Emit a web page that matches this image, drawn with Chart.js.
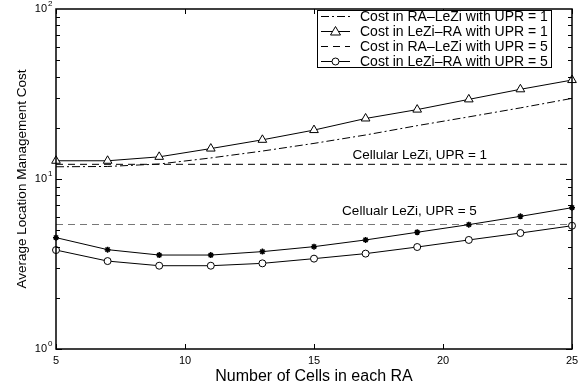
<!DOCTYPE html>
<html>
<head>
<meta charset="utf-8">
<script src="https://cdn.jsdelivr.net/npm/chart.js@4.4.1/dist/chart.umd.min.js"></script>
<style>
  html, body { margin: 0; padding: 0; background: #fff; }
  canvas { display: block; }
</style>
</head>
<body>
<canvas id="costChart" width="581" height="385"></canvas>
<script>
const cells = [5, 7, 9, 11, 13, 15, 17, 19, 21, 23, 25];
const raLeziUpr1 = [11.8, 11.85, 12.25, 13.3, 14.6, 16.2, 18.15, 20.6, 23.2, 26.2, 29.8];
const leziRaUpr1 = [12.8, 12.8, 13.5, 15.1, 17.0, 19.4, 22.7, 25.6, 29.4, 33.7, 38.2];
const raLeziUpr5 = [4.52, 3.84, 3.57, 3.57, 3.74, 4.0, 4.38, 4.86, 5.39, 6.03, 6.78];
const leziRaUpr5 = [3.82, 3.29, 3.09, 3.09, 3.19, 3.40, 3.64, 3.98, 4.38, 4.81, 5.31];
const cellularLezi = [12.2, 5.4]; // UPR = 1, UPR = 5
const cellularLabels = ["Cellular LeZi, UPR = 1", "Cellualr LeZi, UPR = 5"];
const xTicks = [5, 10, 15, 20, 25];
const yDecades = [0, 1, 2];
const legendLabels = [
  "Cost in RA\u2013LeZi with UPR = 1",
  "Cost in LeZi\u2013RA with UPR = 1",
  "Cost in RA\u2013LeZi with UPR = 5",
  "Cost in LeZi\u2013RA with UPR = 5"
];

const FONT = '"Liberation Sans", Arial, Helvetica, sans-serif';
const DASH = [7, 5];
const DASH_DOT = [8, 3, 2, 3];

const pts = (ys) => cells.map((c, i) => ({ x: c, y: ys[i] }));
const flat = (v) => [{ x: cells[0], y: v }, { x: cells[cells.length - 1], y: v }];

function series(data, extra) {
  return Object.assign({
    data,
    borderColor: "#000",
    borderWidth: 1,
    pointRadius: 0,
    pointBackgroundColor: "#fff",
    pointBorderColor: "#000",
    pointBorderWidth: 1,
    tension: 0,
    clip: false
  }, extra);
}

// legend samples: dash pattern + marker
const legendStyles = [
  { dash: DASH_DOT, marker: null },
  { dash: [], marker: "triangle" },
  { dash: DASH, marker: null },
  { dash: [], marker: "circle" }
];

function drawMarker(ctx, kind, x, y) {
  ctx.save();
  ctx.setLineDash([]);
  ctx.fillStyle = "#fff";
  ctx.strokeStyle = "#000";
  ctx.lineWidth = 1;
  ctx.beginPath();
  if (kind === "triangle") {
    ctx.moveTo(x, y - 5);
    ctx.lineTo(x + 5, y + 3.5);
    ctx.lineTo(x - 5, y + 3.5);
    ctx.closePath();
  } else {
    ctx.arc(x, y, 3.5, 0, Math.PI * 2);
  }
  ctx.fill();
  ctx.stroke();
  ctx.restore();
}

const frame = {
  id: "frame",
  afterDraw(chart) {
    const { ctx, chartArea: a, scales: { x, y } } = chart;
    ctx.save();
    ctx.strokeStyle = "#000";
    ctx.fillStyle = "#000";

    // tick marks pointing inward, on all four sides
    ctx.lineWidth = 1;
    ctx.beginPath();
    for (let d = 0; d < 2; d++) {
      for (let m = 1; m <= 9; m++) {
        const py = Math.round(y.getPixelForValue(m * Math.pow(10, d))) + 0.5;
        const len = m === 1 ? 6 : 4;
        ctx.moveTo(a.left, py); ctx.lineTo(a.left + len, py);
        ctx.moveTo(a.right, py); ctx.lineTo(a.right - len, py);
      }
    }
    xTicks.forEach(v => {
      const px = Math.round(x.getPixelForValue(v)) + 0.5;
      ctx.moveTo(px, a.bottom); ctx.lineTo(px, a.bottom - 5);
      ctx.moveTo(px, a.top); ctx.lineTo(px, a.top + 5);
    });
    ctx.stroke();

    // axes box
    ctx.lineWidth = 1.5;
    ctx.strokeRect(a.left, a.top, a.right - a.left, a.bottom - a.top);

    // y tick labels 10^n
    ctx.textBaseline = "middle";
    yDecades.forEach(n => {
      const py = y.getPixelForValue(Math.pow(10, n));
      ctx.font = "11px " + FONT;
      ctx.textAlign = "right";
      ctx.fillText("10", a.left - 9, py);
      ctx.font = "8px " + FONT;
      ctx.textAlign = "left";
      ctx.fillText(String(n), a.left - 8, py - 5);
    });

    // x tick labels
    ctx.font = "11px " + FONT;
    ctx.textAlign = "center";
    xTicks.forEach(v => ctx.fillText(String(v), x.getPixelForValue(v), a.bottom + 12));

    // axis titles
    ctx.font = "16px " + FONT;
    ctx.fillText("Number of Cells in each RA", (a.left + a.right) / 2, a.bottom + 28);
    ctx.save();
    ctx.translate(22, (a.top + a.bottom) / 2);
    ctx.rotate(-Math.PI / 2);
    ctx.font = "13.5px " + FONT;
    ctx.fillText("Average Location Management Cost", 0, 0);
    ctx.restore();

    // labels on the cellular reference lines
    ctx.font = "13.5px " + FONT;
    ctx.fillText(cellularLabels[0], x.getPixelForValue(19.1), y.getPixelForValue(cellularLezi[0]) - 9);
    ctx.fillText(cellularLabels[1], x.getPixelForValue(18.7), y.getPixelForValue(cellularLezi[1]) - 13);

    // legend box
    const lx = 317, ly = 10, lw = 234, lh = 57, row = 15;
    ctx.fillStyle = "#fff";
    ctx.fillRect(lx, ly, lw, lh);
    ctx.lineWidth = 1;
    ctx.strokeStyle = "#000";
    ctx.strokeRect(lx + 0.5, ly + 0.5, lw, lh);
    ctx.font = "14px " + FONT;
    ctx.textAlign = "left";
    legendLabels.forEach((label, i) => {
      const ry = ly + 6.5 + row * i;
      const st = legendStyles[i];
      ctx.setLineDash(st.dash);
      ctx.beginPath();
      ctx.moveTo(lx + 4, ry);
      ctx.lineTo(lx + 33, ry);
      ctx.stroke();
      ctx.setLineDash([]);
      if (st.marker) drawMarker(ctx, st.marker, lx + 18.5, ry);
      ctx.fillStyle = "#000";
      ctx.fillText(label, lx + 43, ry + 1);
    });
    ctx.restore();
  }
};

new Chart(document.getElementById("costChart"), {
  type: "line",
  data: {
    datasets: [
      series(pts(raLeziUpr1), { borderDash: DASH_DOT }),
      series(pts(leziRaUpr1), { pointStyle: "triangle", pointRadius: 5 }),
      series(pts(raLeziUpr5), { pointStyle: "star", pointRadius: 3, pointBorderWidth: 1.5 }),
      series(pts(leziRaUpr5), { pointStyle: "circle", pointRadius: 3.5 }),
      series(flat(cellularLezi[0]), { borderDash: DASH }),
      series(flat(cellularLezi[1]), { borderDash: DASH, borderColor: "#777", borderWidth: 1.2 })
    ]
  },
  options: {
    responsive: false,
    animation: false,
    events: [],
    layout: { padding: { top: 9, right: 9, left: 0, bottom: 0 } },
    plugins: { legend: { display: false }, tooltip: { enabled: false } },
    scales: {
      x: {
        type: "linear", min: 5, max: 25,
        ticks: { display: false },
        grid: { display: false },
        border: { display: false },
        afterFit: s => { s.height = 36; }
      },
      y: {
        type: "logarithmic", min: 1, max: 100,
        ticks: { display: false },
        grid: { display: false },
        border: { display: false },
        afterFit: s => { s.width = 56; }
      }
    }
  },
  plugins: [frame]
});
</script>
</body>
</html>
